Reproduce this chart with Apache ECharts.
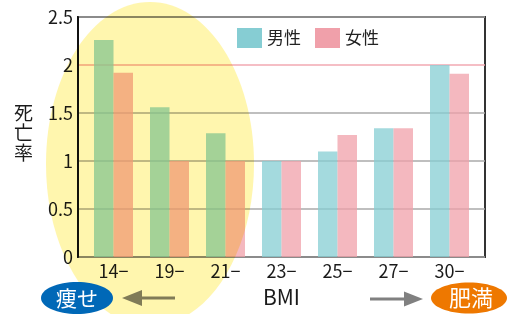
<!DOCTYPE html>
<html lang="ja">
<head>
    <meta charset="utf-8">
    <title>BMIと死亡率</title>
    <script src="https://cdn.jsdelivr.net/npm/echarts@6/dist/echarts.min.js"></script>
    <style>
        html, body {
            margin: 0;
            padding: 0;
            background: #fff;
        }
    </style>
</head>
<body>
<div id="chart" style="width: 509px; height: 314px;"></div>

<script>
    // データ
    var categories = ['14−', '19−', '21−', '23−', '25−', '27−', '30−'];
    var maleValues = [2.26, 1.56, 1.29, 1.0, 1.10, 1.34, 2.0];
    var femaleValues = [1.92, 1.0, 1.0, 1.0, 1.27, 1.34, 1.91];
    var seriesNames = ['男性', '女性'];
    var yMin = 0, yMax = 2.5, yStep = 0.5;

    var font = '"Noto Sans CJK JP", "Noto Sans", sans-serif';
    var gridColors = ['#aaa', '#aaa', '#aaa', '#aaa', '#f2a8b2', '#aaa'];

    var myChart = echarts.init(document.getElementById('chart'), null, {renderer: 'canvas'});

    var option = {
        animation: false,
        backgroundColor: '#fff',
        textStyle: {fontFamily: font},
        color: ['#86cdd3', '#f0a0aa'],
        legend: {
            data: seriesNames,
            left: 237,
            top: 28,
            padding: 0,
            icon: 'rect',
            itemWidth: 25,
            itemHeight: 20,
            itemGap: 14,
            itemStyle: {opacity: 1},
            textStyle: {fontSize: 17, color: '#222', fontFamily: font}
        },
        grid: [
            // 枠と目盛り用
            {left: 78, right: 24, top: 17, bottom: 57, show: true,
             borderColor: '#333', borderWidth: 2, backgroundColor: 'transparent'},
            // 棒グラフ用
            {left: 85.5, right: 31.5, top: 17, bottom: 57}
        ],
        xAxis: [
            {gridIndex: 0, type: 'value', show: false, min: 0, max: 1},
            {
                gridIndex: 1,
                type: 'category',
                data: categories,
                axisLine: {show: false},
                axisTick: {show: false},
                axisLabel: {fontSize: 18, color: '#1a1a1a', margin: 5, fontFamily: font},
                name: 'BMI',
                nameLocation: 'middle',
                nameGap: 30,
                nameTextStyle: {fontSize: 21, color: '#1a1a1a', fontFamily: font}
            }
        ],
        yAxis: [
            {
                gridIndex: 0,
                type: 'value',
                min: yMin,
                max: yMax,
                interval: yStep,
                axisLine: {show: true, lineStyle: {color: '#111', width: 2}},
                axisTick: {show: false},
                axisLabel: {fontSize: 18, color: '#1a1a1a', margin: 5, fontFamily: font},
                splitLine: {show: true, lineStyle: {color: gridColors, width: 1.5}}
            },
            {gridIndex: 1, type: 'value', min: yMin, max: yMax, show: false}
        ],
        series: [
            {
                name: seriesNames[0],
                type: 'bar',
                xAxisIndex: 1,
                yAxisIndex: 1,
                data: maleValues,
                barWidth: 19.5,
                barGap: '0%',
                itemStyle: {opacity: 0.75}
            },
            {
                name: seriesNames[1],
                type: 'bar',
                xAxisIndex: 1,
                yAxisIndex: 1,
                data: femaleValues,
                barWidth: 19.5,
                barGap: '0%',
                itemStyle: {opacity: 0.75}
            }
        ],
        graphic: [
            // 縦書きの軸名
            {
                type: 'text', left: 14, top: 103, z: 10,
                style: {text: '死\n亡\n率', lineHeight: 20, fill: '#1a1a1a', font: '19px ' + font}
            },
            // 矢印（左）
            {type: 'line', z: 50, shape: {x1: 140, y1: 298, x2: 175, y2: 298}, style: {stroke: '#808080', lineWidth: 3}},
            {type: 'polygon', z: 50, shape: {points: [[122, 298], [142, 290], [142, 306]]}, style: {fill: '#808080'}},
            // 矢印（右）
            {type: 'line', z: 50, shape: {x1: 370, y1: 299, x2: 406, y2: 299}, style: {stroke: '#808080', lineWidth: 3}},
            {type: 'polygon', z: 50, shape: {points: [[423, 299], [404, 291.5], [404, 306.5]]}, style: {fill: '#808080'}},
            // 黄色い楕円（乗算）
            {
                type: 'ellipse', z: 100,
                shape: {cx: 150, cy: 164, rx: 104, ry: 162},
                style: {fill: '#fff6ae', blend: 'multiply'}
            },
            // 痩せ
            {type: 'ellipse', z: 110, shape: {cx: 77, cy: 298, rx: 36, ry: 16}, style: {fill: '#0068b7'}},
            {
                type: 'text', z: 111, x: 77, y: 298,
                style: {text: '痩せ', fill: '#fff', align: 'center', verticalAlign: 'middle', font: '21px ' + font}
            },
            // 肥満
            {type: 'ellipse', z: 110, shape: {cx: 469, cy: 298, rx: 38, ry: 15.5}, style: {fill: '#ee7800'}},
            {
                type: 'text', z: 111, x: 471, y: 298,
                style: {text: '肥満', fill: '#fff', align: 'center', verticalAlign: 'middle', font: '22px ' + font}
            }
        ]
    };

    myChart.setOption(option);
</script>
</body>
</html>
